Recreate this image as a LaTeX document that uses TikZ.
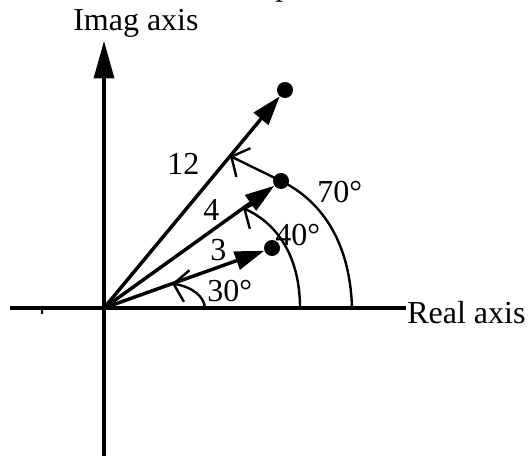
\documentclass[tikz,border=0pt]{standalone}
\usepackage{fontspec}
\setmainfont{Liberation Serif}
\usetikzlibrary{arrows.meta}
\begin{document}
\begin{tikzpicture}[x=0.75pt,y=-0.75pt,
 axis/.style={line width=2.4pt},
 vec/.style={line width=2.6pt,-{Triangle[length=22pt,width=14pt]}},
 ang/.style={line width=1.8pt,-{Straight Barb[length=10pt,width=24pt]}},
 dot/.style={circle,fill=black,inner sep=0pt,minimum size=12pt},
 lbl/.style={font=\fontsize{24}{28}\selectfont,inner sep=0pt,anchor=base west}]
\useasboundingbox (0,0) rectangle (530,459);
\clip (0,0) rectangle (530,459);
\node[lbl] (title) at (275,-4) {p};
\coordinate (O) at (104,308);
\coordinate (ibot) at (104,456);
\coordinate (itop) at (104,41);
\coordinate (rl) at (10,308);
\coordinate (rr) at (406,308);
\coordinate (tk1) at (42,308);
\coordinate (tk2) at (42,314);
% axes
\draw[axis] (ibot) -- (O);
\draw[axis,-{Triangle[length=28pt,width=15pt]}] (O) -- (itop);
\draw[axis] (rl) -- (rr);
\draw[line width=1.8pt] (tk1) -- (tk2);
\node[lbl] (imag) at (73,31) {Imag axis};
\node[lbl] (real) at (407,323) {Real axis};
% dots
\node[dot] (d1) at (285,90) {};
\node[dot] (d2) at (281,181) {};
\node[dot] (d3) at (272,248) {};
% angle arcs
\coordinate (a30s) at (205,308);
\coordinate (a30e) at (172,283.5);
\coordinate (a40s) at (300,308);
\coordinate (a40e) at (243,208);
\coordinate (a70s) at (352,308);
\coordinate (a70e) at (230,156);
\draw[ang] (a30s) .. controls (204,296) and (192,287) .. (a30e);
\draw[ang] (a40s) .. controls (300,260) and (280,225) .. (a40e);
\draw[line width=1.8pt] (a70s) .. controls (350,240) and (320,200) .. (d2.center);
\draw[ang] (d2.center) -- (a70e);
% vectors
\draw[vec] (O) -- (d1);
\draw[vec] (O) -- (d2);
\draw[vec] (O) -- (d3);
% labels
\node[lbl] (l12) at (167,175) {12};
\node[lbl] (l4) at (203,220) {4};
\node[lbl] (l3) at (210,260) {3};
\node[lbl] (l30) at (207,301) {30°};
\node[lbl] (l40) at (275,245) {40°};
\node[lbl] (l70) at (317,203) {70°};
\end{tikzpicture}
\end{document}
